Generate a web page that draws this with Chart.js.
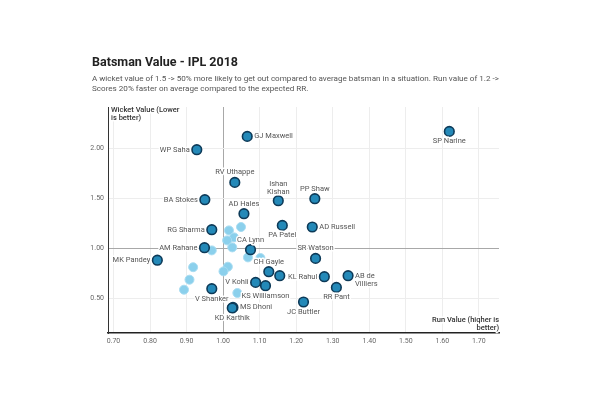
<!DOCTYPE html>
<html>
<head>
<meta charset="utf-8">
<script src="https://cdn.jsdelivr.net/npm/chart.js@4.4.0/dist/chart.umd.min.js"></script>
<style>
  body { margin: 0; background: #fff; font-family: Roboto, "Open Sans", sans-serif; }
  #wrap { position: relative; width: 595px; height: 396px; }
  #titulo { position: absolute; left: 92px; top: 54px; font-size: 12.5px; font-weight: bold; color: #222; }
  #sub { position: absolute; left: 92px; top: 73px; font-size: 8.1px; line-height: 10px; color: #555; white-space: nowrap; }
  canvas { position: absolute; left: 0; top: 0; }
</style>
</head>
<body>
<div id="wrap">
  <canvas id="grafico" width="595" height="396"></canvas>
  <div id="titulo">Batsman Value - IPL 2018</div>
  <div id="sub">A wicket value of 1.5 -&gt; 50% more likely to get out compared to average batsman in a situation. Run value of 1.2 -&gt;<br>Scores 20% faster on average compared to the expected RR.</div>
</div>
<script>
// jogadores com nome
var nomes = ['GJ Maxwell', 'WP Saha', 'SP Narine', 'RV Uthappe', 'BA Stokes', 'Ishan Kishan', 'PP Shaw',
  'AD Hales', 'PA Patel', 'AD Russell', 'RG Sharma', 'AM Rahane', 'CA Lynn', 'SR Watson', 'MK Pandey',
  'CH Gayle', '', 'KL Rahul', 'AB de Villiers', 'RR Pant', 'V Kohli', 'KS Williamson', 'V Shanker',
  'MS Dhoni', 'KD Karthik', 'JC Buttler'];
var runValue = [1.066, 0.928, 1.619, 1.032, 0.950, 1.151, 1.251,
  1.057, 1.162, 1.244, 0.969, 0.949, 1.075, 1.253, 0.820,
  1.125, 1.155, 1.277, 1.342, 1.310, 1.089, 1.116, 0.969,
  1.027, 1.025, 1.220];
var wicketValue = [2.116, 1.983, 2.166, 1.656, 1.483, 1.473, 1.493,
  1.343, 1.226, 1.210, 1.183, 1.003, 0.983, 0.896, 0.878,
  0.763, 0.723, 0.713, 0.723, 0.606, 0.656, 0.623, 0.593,
  0.406, 0.400, 0.460];

// outros batedores (sem nome)
var outrosRun = [1.016, 1.049, 1.030, 1.011, 1.025, 0.969, 1.068, 1.102, 0.918, 1.013, 1.001, 0.908, 0.893, 1.039];
var outrosWicket = [1.176, 1.210, 1.106, 1.076, 1.006, 0.976, 0.906, 0.900, 0.808, 0.813, 0.766, 0.683, 0.583, 0.550];

var ticksX = [0.7, 0.8, 0.9, 1.0, 1.1, 1.2, 1.3, 1.4, 1.5, 1.6, 1.7];
var ticksY = [0.5, 1.0, 1.5, 2.0];

// onde fica cada rotulo
var posRotulo = {
  'GJ Maxwell': 'right', 'WP Saha': 'left', 'SP Narine': 'below', 'RV Uthappe': 'above',
  'BA Stokes': 'left', 'Ishan Kishan': 'above2', 'PP Shaw': 'above', 'AD Hales': 'above',
  'PA Patel': 'below', 'AD Russell': 'right', 'RG Sharma': 'left', 'AM Rahane': 'left',
  'CA Lynn': 'above', 'SR Watson': 'above', 'MK Pandey': 'left', 'CH Gayle': 'above',
  'KL Rahul': 'left', 'AB de Villiers': 'right2', 'RR Pant': 'below', 'V Kohli': 'left',
  'KS Williamson': 'below', 'V Shanker': 'below', 'MS Dhoni': 'right', 'KD Karthik': 'below',
  'JC Buttler': 'below'
};

var pontos = nomes.map(function (n, i) { return { x: runValue[i], y: wicketValue[i] }; });
var outros = outrosRun.map(function (v, i) { return { x: v, y: outrosWicket[i] }; });

function textoComFundo(ctx, txt, x, y) {
  ctx.lineWidth = 3;
  ctx.strokeStyle = '#fff';
  ctx.strokeText(txt, x, y);
  ctx.fillText(txt, x, y);
}

var rotulos = {
  id: 'rotulos',
  afterDatasetsDraw: function (chart) {
    var ctx = chart.ctx;
    var area = chart.chartArea;
    var meta = chart.getDatasetMeta(0);
    ctx.save();
    ctx.font = '7.5px Roboto';
    ctx.fillStyle = '#555';
    ctx.lineJoin = 'round';
    meta.data.forEach(function (el, i) {
      var nome = nomes[i];
      if (!nome) return;
      var lado = posRotulo[nome];
      var x = el.x, y = el.y;
      ctx.textBaseline = 'middle';
      if (lado === 'left') {
        ctx.textAlign = 'right';
        textoComFundo(ctx, nome, x - 7, y);
      } else if (lado === 'right') {
        ctx.textAlign = 'left';
        textoComFundo(ctx, nome, x + 7, y);
      } else if (lado === 'above') {
        ctx.textAlign = 'center';
        textoComFundo(ctx, nome, x, y - 10);
      } else if (lado === 'below') {
        ctx.textAlign = 'center';
        textoComFundo(ctx, nome, x, y + 10);
      } else if (lado === 'above2') {
        var p = nome.split(' ');
        ctx.textAlign = 'center';
        textoComFundo(ctx, p[0], x, y - 17);
        textoComFundo(ctx, p[1], x, y - 9);
      } else if (lado === 'right2') {
        ctx.textAlign = 'left';
        textoComFundo(ctx, 'AB de', x + 7, y);
        textoComFundo(ctx, 'Villiers', x + 7, y + 8);
      }
    });
    // titulos dos eixos dentro da area
    ctx.font = '500 7.5px Roboto';
    ctx.fillStyle = '#333';
    ctx.textAlign = 'left';
    textoComFundo(ctx, 'Wicket Value (Lower', area.left + 3, area.top + 3);
    textoComFundo(ctx, 'is better)', area.left + 3, area.top + 11);
    ctx.textAlign = 'right';
    textoComFundo(ctx, 'Run Value (higher is', area.right, area.bottom - 13);
    textoComFundo(ctx, 'better)', area.right, area.bottom - 5);
    ctx.restore();
  }
};

function corGrade(c) {
  return Math.abs(c.tick.value - 1) < 0.001 ? '#a8a8a8' : '#ededed';
}

var ctx = document.getElementById('grafico').getContext('2d');
var grafico = new Chart(ctx, {
  type: 'scatter',
  data: {
    datasets: [{
      label: 'Batedores',
      data: pontos,
      backgroundColor: '#2489b8',
      borderColor: '#0d3a58',
      borderWidth: 1.6,
      pointRadius: 4.8,
      pointHoverRadius: 4.8
    }, {
      label: 'Outros',
      data: outros,
      backgroundColor: '#8bd0ec',
      borderColor: '#a9dcf1',
      borderWidth: 1,
      pointRadius: 4.5,
      pointHoverRadius: 4.5
    }]
  },
  options: {
    responsive: false,
    animation: false,
    layout: { padding: { left: 0, right: 96, top: 107, bottom: 0 } },
    plugins: { legend: { display: false }, tooltip: { enabled: false } },
    scales: {
      x: {
        type: 'linear',
        min: 0.685,
        max: 1.755,
        afterBuildTicks: function (s) { s.ticks = ticksX.map(function (v) { return { value: v }; }); },
        afterFit: function (s) { s.height = 396 - 333; },
        ticks: {
          padding: 4,
          font: { family: 'Roboto', size: 7 },
          color: '#666',
          callback: function (v) { return Number(v).toFixed(2); }
        },
        grid: { color: corGrade, drawTicks: false, lineWidth: 1 },
        border: { color: '#222', width: 1.5 }
      },
      y: {
        type: 'linear',
        min: 0.15,
        max: 2.41,
        afterBuildTicks: function (s) { s.ticks = ticksY.map(function (v) { return { value: v }; }); },
        afterFit: function (s) { s.width = 108; },
        ticks: {
          padding: 4,
          font: { family: 'Roboto', size: 7 },
          color: '#666',
          callback: function (v) { return Number(v).toFixed(2); }
        },
        grid: { color: corGrade, drawTicks: false, lineWidth: 1 },
        border: { color: '#333', width: 1 }
      }
    }
  },
  plugins: [rotulos]
});
</script>
</body>
</html>
